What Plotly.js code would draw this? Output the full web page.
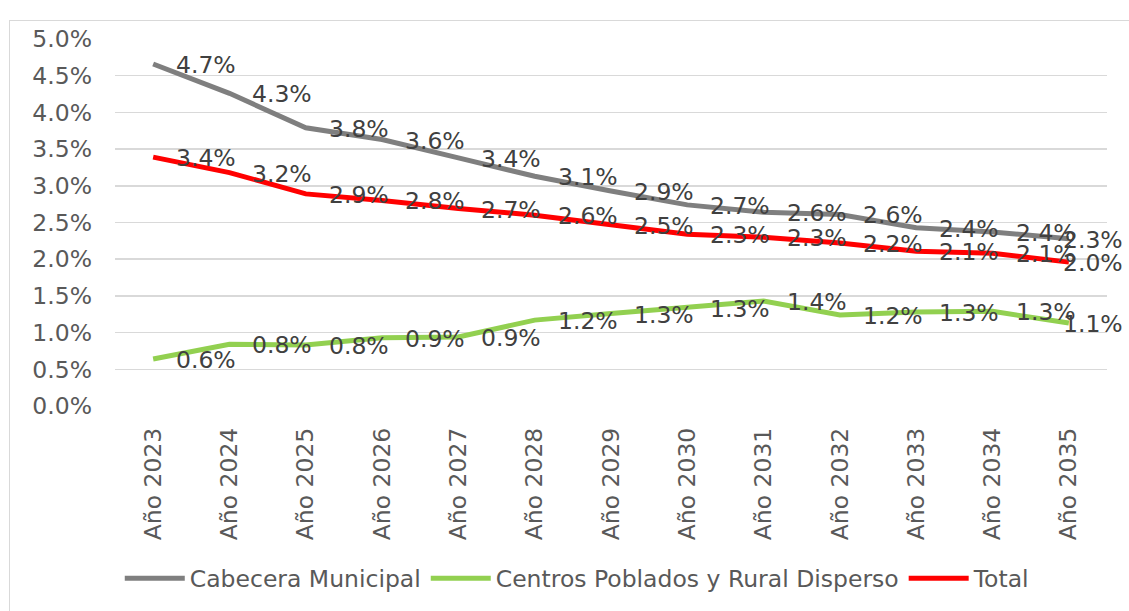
<!DOCTYPE html>
<html>
<head>
<meta charset="utf-8">
<script src="https://cdn.plot.ly/plotly-3.0.1.min.js"></script>
<style>
  html, body { margin: 0; padding: 0; background: #ffffff; }
  #wrap { position: relative; width: 1129px; height: 611px; overflow: hidden; }
  #chart { position: absolute; left: 0; top: 0; width: 1129px; height: 611px; }
  #frame { position: absolute; left: 9px; top: 20px; width: 1200px; height: 700px;
           border-left: 1px solid #d9d9d9; border-top: 1px solid #d9d9d9; pointer-events: none; }
</style>
</head>
<body>
<div id="wrap">
  <div id="chart"></div>
  <div id="frame"></div>
</div>
<script>
// Categories
const years = ["Año 2023","Año 2024","Año 2025","Año 2026","Año 2027","Año 2028","Año 2029",
               "Año 2030","Año 2031","Año 2032","Año 2033","Año 2034","Año 2035"];

// Series values (growth rates, as fractions)
const cabeceraMunicipal = [0.0466,0.0426,0.0379,0.0363,0.0338,0.0313,0.0293,0.0274,0.0264,0.0261,0.0243,0.0237,0.0228];
const centrosPoblados   = [0.0064,0.0084,0.0083,0.0093,0.0094,0.0117,0.0126,0.0134,0.0143,0.0124,0.0128,0.0129,0.0113];
const total             = [0.0339,0.0318,0.0289,0.0280,0.0269,0.0260,0.0247,0.0234,0.0230,0.0222,0.0211,0.0208,0.0196];

// Series names
const seriesNames = ["Cabecera Municipal","Centros Poblados y Rural Disperso","Total"];

const colors = ["#7f7f7f","#92d050","#ff0000"];
const allSeries = [cabeceraMunicipal, centrosPoblados, total];

const fontFam = "DejaVu Sans, Verdana, sans-serif";
const fs = 23.5;

const traces = allSeries.map((vals, i) => ({
  x: years,
  y: vals,
  type: "scatter",
  mode: "lines",
  name: seriesNames[i],
  line: { color: colors[i], width: 5 },
  hoverinfo: "skip"
}));

const annotations = [];
allSeries.forEach((vals) => {
  vals.forEach((v, j) => {
    const last = j === vals.length - 1;
    annotations.push({
      x: years[j], y: v, xref: "x", yref: "y",
      text: (v * 100).toFixed(1) + "%",
      showarrow: false,
      xanchor: "left", yanchor: "middle",
      xshift: last ? -8 : 21, yshift: -1,
      font: { family: fontFam, size: fs, color: "#404040" }
    });
  });
});

const layout = {
  width: 1129, height: 611,
  margin: { l: 115, r: 22, t: 39, b: 204, pad: 0 },
  paper_bgcolor: "#ffffff", plot_bgcolor: "#ffffff",
  showlegend: true,
  legend: {
    orientation: "h", x: 0.466, xanchor: "center", y: -0.466, yanchor: "middle",
    font: { family: fontFam, size: fs, color: "#595959" },
    itemwidth: 60, traceorder: "normal"
  },
  xaxis: {
    type: "category",
    range: [-0.5, 12.5],
    showgrid: false, zeroline: false, showline: false,
    tickangle: -90,
    ticks: "",
    ticklabelstandoff: 16,
    tickfont: { family: fontFam, size: fs, color: "#595959" },
    fixedrange: true
  },
  yaxis: {
    range: [0, 0.05],
    dtick: 0.005,
    tick0: 0,
    tickformat: ".1%",
    showgrid: true, gridcolor: "#d9d9d9", gridwidth: 1.5,
    zeroline: false, showline: false,
    ticks: "",
    ticklabelstandoff: 22,
    tickfont: { family: fontFam, size: fs, color: "#595959" },
    fixedrange: true
  },
  annotations: annotations
};

Plotly.newPlot("chart", traces, layout, { displayModeBar: false, staticPlot: true });
</script>
</body>
</html>
